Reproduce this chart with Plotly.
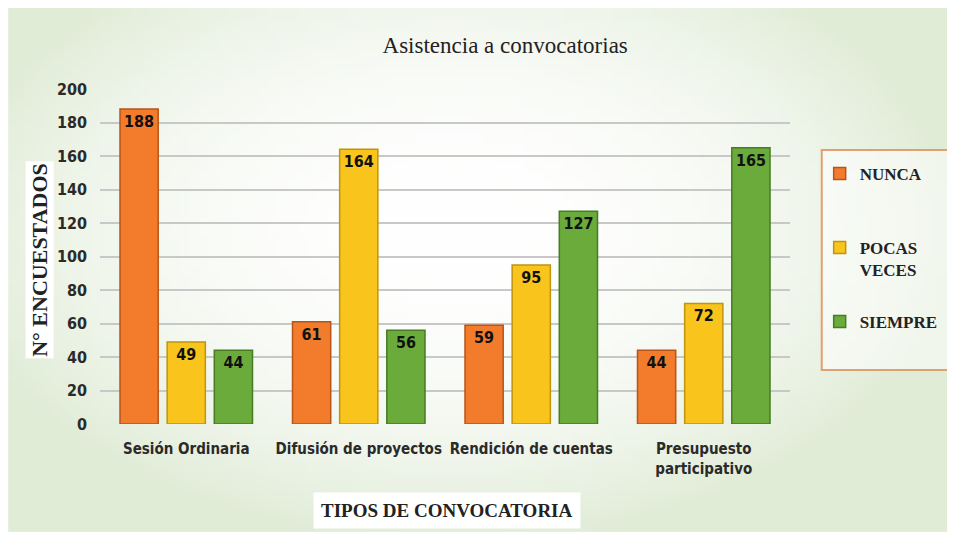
import base64, struct, zlib
import plotly.graph_objects as go

categories = ["Sesión Ordinaria", "Difusión de proyectos", "Rendición de cuentas", "Presupuesto<br>participativo"]
nunca = [188, 61, 59, 44]
pocas = [49, 164, 95, 72]
siempre = [44, 56, 127, 165]
y_ticks = [0, 20, 40, 60, 80, 100, 120, 140, 160, 180, 200]


def gradient_png(w=96, h=56):
    rows = b""
    for j in range(h):
        row = b"\x00"
        for i in range(w):
            dx = (i / (w - 1) - 0.47) / 0.55
            dy = (j / (h - 1) - 0.42) / 0.62
            d = min(1.0, (dx * dx + dy * dy) ** 0.5)
            t = d ** 2.2
            g = (224, 236, 214)
            c = [int(255 + (g[k] - 255) * t) for k in range(3)]
            row += bytes(c)
        rows += row
    def chunk(tag, data):
        return struct.pack(">I", len(data)) + tag + data + struct.pack(">I", zlib.crc32(tag + data) & 0xffffffff)
    png = b"\x89PNG\r\n\x1a\n" + chunk(b"IHDR", struct.pack(">IIBBBBB", w, h, 8, 2, 0, 0, 0))
    png += chunk(b"IDAT", zlib.compress(rows)) + chunk(b"IEND", b"")
    return "data:image/png;base64," + base64.b64encode(png).decode()


cond = "DejaVu Sans Condensed, Roboto, sans-serif"
serif = "Liberation Serif, Times New Roman, serif"

fig = go.Figure()
series = [
    ("NUNCA", nunca, "#f27b2c", "#b85418", "legend"),
    ("POCAS<br>VECES", pocas, "#f9c51c", "#bf9410", "legend2"),
    ("SIEMPRE", siempre, "#6bab3b", "#467c22", "legend3"),
]
for i, (name, vals, col, edge, leg) in enumerate(series):
    fig.add_trace(go.Bar(
        x=categories, y=vals, name=name, legend=leg,
        marker=dict(color=col, line=dict(color=edge, width=1.5)),
        text=[str(v) for v in vals], textposition="inside", insidetextanchor="end",
        textfont=dict(family=cond, size=16, color="#111", weight="bold"),
        textangle=0,
    ))

leg_common = dict(x=1.043, xanchor="left", yanchor="top", borderwidth=0, bgcolor="rgba(0,0,0,0)",
                  valign="top", itemwidth=30,
                  font=dict(family=serif, size=17, color="#222", weight="bold"))

fig.update_layout(
    width=947, height=537,
    margin=dict(l=92, r=165, t=81, b=121),
    paper_bgcolor="white",
    plot_bgcolor="rgba(0,0,0,0)",
    barmode="group", bargap=0.18, bargroupgap=0.19,
    title=dict(text="Asistencia a convocatorias", x=0.525, xanchor="center", y=0.931, yanchor="middle",
               font=dict(family=serif, size=23, color="#222")),
    showlegend=True,
    legend=dict(y=0.80, **leg_common),
    legend2=dict(y=0.579, **leg_common),
    legend3=dict(y=0.358, **leg_common),
    xaxis=dict(showgrid=False, showline=False, ticks="", ticklabelstandoff=14,
               tickfont=dict(family=cond, size=15, color="#2a2a2a", weight="bold")),
    yaxis=dict(range=[0, 200], tickvals=y_ticks, showgrid=True, gridcolor="#c8c8c8", gridwidth=1.5,
               zeroline=False, showline=False, ticks="", ticklabelstandoff=12,
               tickfont=dict(family=cond, size=16, color="#2a2a2a", weight="bold")),
    images=[dict(source=gradient_png(), xref="paper", yref="paper", x=-0.133, y=1.242,
                 sizex=1.365, sizey=1.564, sizing="stretch", layer="below", xanchor="left", yanchor="top")],
    shapes=[dict(type="rect", xref="paper", yref="paper", x0=1.046, x1=1.232, y0=0.161, y1=0.818,
                 line=dict(color="#e0a070", width=2), fillcolor="rgba(255,255,255,0.55)", layer="below")],
    annotations=[
        dict(text="N° ENCUESTADOS", xref="paper", yref="paper", x=-0.087, y=0.49, textangle=-90,
             xanchor="center", yanchor="middle",
             showarrow=False, bgcolor="white", font=dict(family=serif, size=22, color="#222", weight="bold")),
        dict(text="TIPOS DE CONVOCATORIA", xref="paper", yref="paper", x=0.503, y=-0.257,
             xanchor="center", yanchor="middle",
             showarrow=False, bgcolor="white", borderpad=7,
             font=dict(family=serif, size=19, color="#222", weight="bold")),
    ],
)

fig.write_html("out.html")
